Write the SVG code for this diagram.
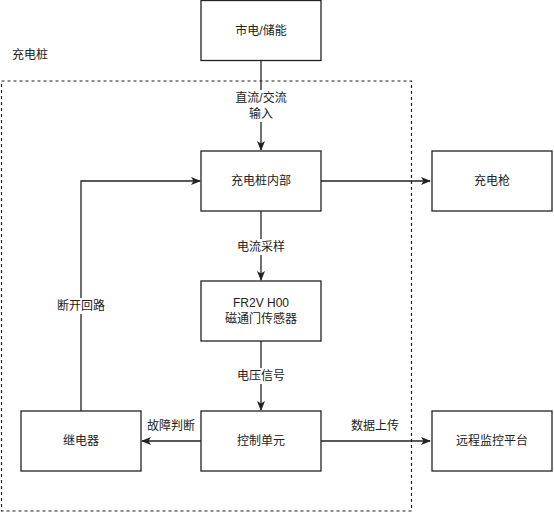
<svg xmlns="http://www.w3.org/2000/svg" width="554" height="514" viewBox="0 0 554 514">
<defs>
<style>
.box{fill:#fff;stroke:#222;stroke-width:1.3}
.ln{fill:none;stroke:#222;stroke-width:1.3}
.t{font-family:"Liberation Sans","Noto Sans CJK SC",sans-serif;font-size:12px;fill:#222;text-anchor:middle;dominant-baseline:central}
.lb{fill:#fff}
</style>
<marker id="arr" viewBox="0 0 10 10" refX="9" refY="5" markerWidth="10" markerHeight="10" markerUnits="userSpaceOnUse" orient="auto">
<path d="M0,1 L10,5 L0,9 L2.5,5 Z" fill="#222"/>
</marker>
</defs>
<rect x="0" y="0" width="554" height="514" fill="#fff"/>
<g id="container">
<rect x="1.5" y="81" width="410" height="430" fill="none" stroke="#222" stroke-width="1.2" stroke-dasharray="3,3"/>
<text class="t" x="30" y="55">充电桩</text>
</g>
<g id="connectors">
<path class="ln" d="M261,61 V150" marker-end="url(#arr)"/>
<path class="ln" d="M321,181 H430" marker-end="url(#arr)"/>
<path class="ln" d="M261,211 V280" marker-end="url(#arr)"/>
<path class="ln" d="M261,341 V410" marker-end="url(#arr)"/>
<path class="ln" d="M201,441 H142" marker-end="url(#arr)"/>
<path class="ln" d="M321,441 H430" marker-end="url(#arr)"/>
<path class="ln" d="M81,411 V181 H200" marker-end="url(#arr)"/>
<rect class="lb" x="232" y="90" width="58" height="32"/>
<text class="t" x="261" y="98">直流/交流</text>
<text class="t" x="261" y="114">输入</text>
<rect class="lb" x="234" y="239" width="54" height="16"/>
<text class="t" x="261" y="247">电流采样</text>
<rect class="lb" x="234" y="368" width="54" height="16"/>
<text class="t" x="261" y="376">电压信号</text>
<rect class="lb" x="54" y="298" width="54" height="16"/>
<text class="t" x="81" y="306">断开回路</text>
<text class="t" x="171" y="426">故障判断</text>
<text class="t" x="375" y="426">数据上传</text>
</g>
<g id="mains">
<rect class="box" x="201" y="0.5" width="120" height="60"/>
<text class="t" x="261" y="31">市电/储能</text>
</g>
<g id="pile-internal">
<rect class="box" x="201" y="151" width="120" height="60"/>
<text class="t" x="261" y="181">充电桩内部</text>
</g>
<g id="gun">
<rect class="box" x="432" y="151" width="120" height="60"/>
<text class="t" x="492" y="181">充电枪</text>
</g>
<g id="sensor">
<rect class="box" x="201" y="281" width="120" height="60"/>
<text class="t" x="261" y="303">FR2V H00</text>
<text class="t" x="261" y="319">磁通门传感器</text>
</g>
<g id="relay">
<rect class="box" x="21" y="411" width="120" height="60"/>
<text class="t" x="81" y="441">继电器</text>
</g>
<g id="control">
<rect class="box" x="201" y="411" width="120" height="60"/>
<text class="t" x="261" y="441">控制单元</text>
</g>
<g id="remote">
<rect class="box" x="432" y="411" width="120" height="60"/>
<text class="t" x="492" y="441">远程监控平台</text>
</g>
</svg>
